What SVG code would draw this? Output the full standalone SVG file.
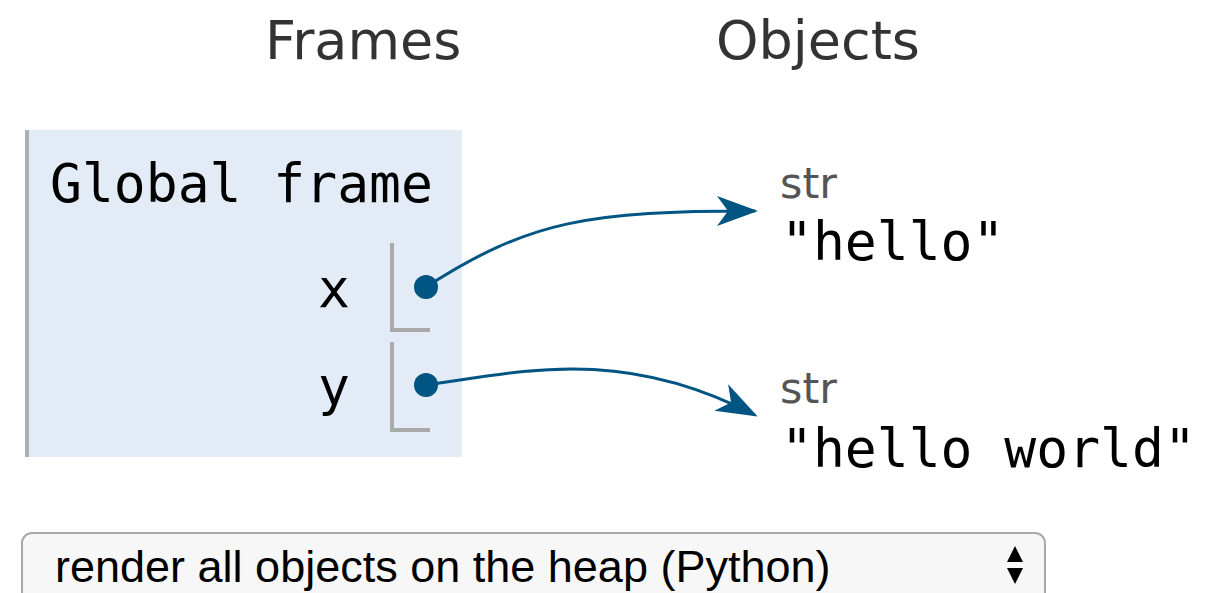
<svg xmlns="http://www.w3.org/2000/svg" width="1211" height="593" viewBox="0 0 1211 593">
<defs>
<style>
.title{font-family:"DejaVu Sans",Verdana,sans-serif;font-size:54px;fill:#333}
.mono{font-family:"DejaVu Sans Mono",Menlo,monospace;font-size:53px;fill:#000}
.type{font-family:"DejaVu Sans",Verdana,sans-serif;font-size:43px;fill:#555}
.stub{fill:none;stroke:#aaaaaa;stroke-width:4}
.ptr{fill:none;stroke:#005583;stroke-width:3}
.dot{fill:#005583}
.sel{font-family:"Liberation Sans",Arial,sans-serif;font-size:45px;fill:#000}
</style>
<marker id="ah" viewBox="-44 -16 46 32" markerWidth="46" markerHeight="32" refX="-3" refY="0" orient="auto" markerUnits="userSpaceOnUse">
<path d="M0 0 L-41 -15 L-30 0 L-41 15 Z" fill="#005583"/>
</marker>
</defs>
<rect width="1211" height="593" fill="#ffffff"/>
<text class="title" x="265" y="59">Frames</text>
<text class="title" x="716" y="59">Objects</text>
<g id="global-frame">
<rect x="25" y="130" width="437" height="327" fill="#e2ebf6"/>
<rect x="25" y="130" width="4" height="327" fill="#a6b3b6"/>
<text class="mono" x="50" y="202">Global frame</text>
<text class="mono" x="350" y="307" text-anchor="end">x</text>
<path class="stub" d="M392 243 V330 H430"/>
<circle class="dot" cx="426" cy="287" r="12"/>
<text class="mono" x="350" y="405" text-anchor="end">y</text>
<path class="stub" d="M392 342 V430 H430"/>
<circle class="dot" cx="426" cy="385" r="12"/>
</g>
<g id="obj-hello">
<text class="type" x="780" y="198">str</text>
<text class="mono" x="781" y="260">"hello"</text>
</g>
<g id="obj-hello-world">
<text class="type" x="780" y="403">str</text>
<text class="mono" x="781" y="467">"hello world"</text>
</g>
<g id="connectors">
<path class="ptr" d="M426 287 C530 220 590 211 755 211" marker-end="url(#ah)"/>
<path class="ptr" d="M426 385 C520 372 620 345 755 415" marker-end="url(#ah)"/>
</g>
<g id="render-select">
<rect x="22" y="533" width="1023" height="80" rx="10" fill="#f7f7f7" stroke="#a9a9a9" stroke-width="2"/>
<text class="sel" x="55" y="582">render all objects on the heap (Python)</text>
<path d="M1007 562 L1023 562 L1015 546 Z M1007 568 L1023 568 L1015 584 Z" fill="#000"/>
</g>
</svg>
